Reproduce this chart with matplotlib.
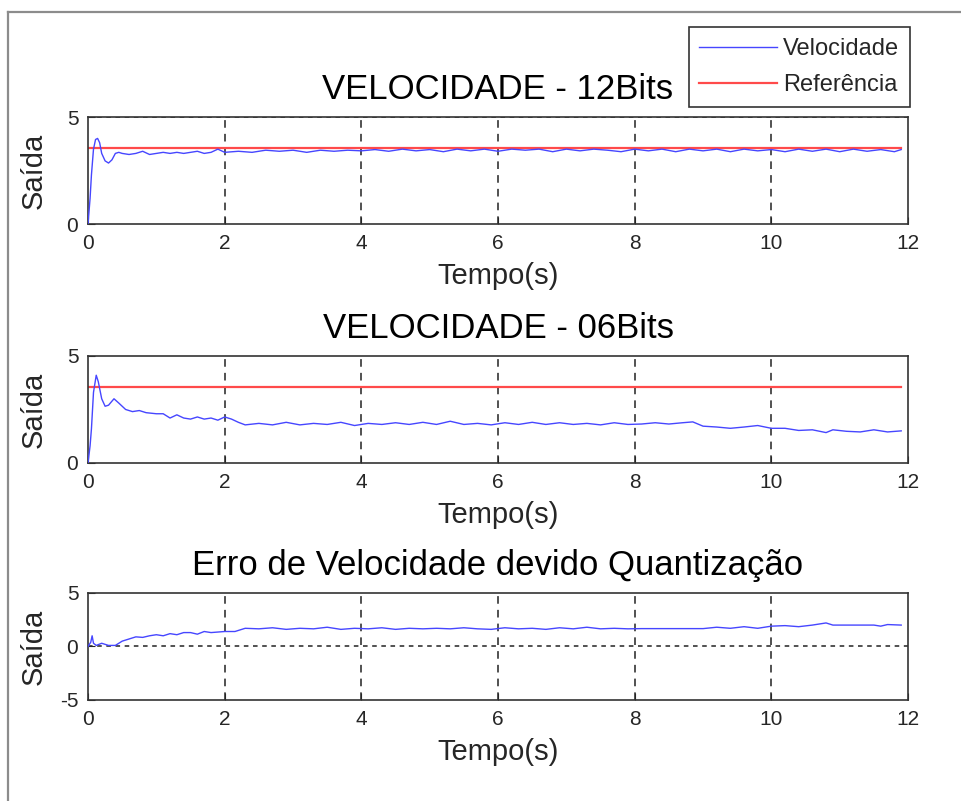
import matplotlib
matplotlib.use("Agg")
import matplotlib.pyplot as plt
from matplotlib.lines import Line2D

plt.rcParams['font.family'] = ['Liberation Sans', 'DejaVu Sans']
plt.rcParams['axes.unicode_minus'] = False

# velocidade 12 bits
t12 = [0, 0.03, 0.05, 0.08, 0.11, 0.14, 0.17, 0.2, 0.25, 0.3, 0.35, 0.4, 0.45, 0.5,
       0.6, 0.7, 0.8, 0.9, 1.0, 1.1, 1.2, 1.3, 1.4, 1.5, 1.6, 1.7, 1.8, 1.9, 2.0,
       2.2, 2.4, 2.6, 2.8, 3.0, 3.2, 3.4, 3.6, 3.8, 4.0, 4.2, 4.4, 4.6, 4.8, 5.0,
       5.2, 5.4, 5.6, 5.8, 6.0, 6.2, 6.4, 6.6, 6.8, 7.0, 7.2, 7.4, 7.6, 7.8, 8.0,
       8.2, 8.4, 8.6, 8.8, 9.0, 9.2, 9.4, 9.6, 9.8, 10.0, 10.2, 10.4, 10.6, 10.8,
       11.0, 11.2, 11.4, 11.6, 11.8, 11.9]
v12 = [0, 1.2, 2.3, 3.5, 3.95, 4.0, 3.8, 3.3, 2.95, 2.85, 3.0, 3.3, 3.35, 3.3,
       3.25, 3.3, 3.4, 3.25, 3.3, 3.35, 3.3, 3.35, 3.3, 3.35, 3.4, 3.3, 3.35, 3.5, 3.35,
       3.4, 3.35, 3.45, 3.4, 3.45, 3.35, 3.45, 3.4, 3.45, 3.42, 3.48, 3.4, 3.5, 3.42, 3.48,
       3.38, 3.5, 3.42, 3.5, 3.4, 3.5, 3.45, 3.5, 3.38, 3.5, 3.42, 3.5, 3.45, 3.38, 3.5,
       3.42, 3.5, 3.38, 3.5, 3.42, 3.5, 3.38, 3.5, 3.42, 3.48, 3.38, 3.5, 3.4, 3.5,
       3.38, 3.5, 3.4, 3.48, 3.38, 3.48]

# velocidade 06 bits
t06 = [0, 0.03, 0.05, 0.08, 0.12, 0.15, 0.2, 0.25, 0.3, 0.38, 0.45, 0.55, 0.65, 0.75,
       0.85, 1.0, 1.1, 1.2, 1.3, 1.4, 1.5, 1.6, 1.7, 1.8, 1.9, 2.0, 2.1, 2.2, 2.3,
       2.5, 2.7, 2.9, 3.1, 3.3, 3.5, 3.7, 3.9, 4.1, 4.3, 4.5, 4.7, 4.9, 5.1, 5.3,
       5.5, 5.7, 5.9, 6.1, 6.3, 6.5, 6.7, 6.9, 7.1, 7.3, 7.5, 7.7, 7.9, 8.1, 8.3,
       8.5, 8.7, 8.85, 9.0, 9.2, 9.4, 9.6, 9.8, 10.0, 10.2, 10.4, 10.6, 10.8, 10.9,
       11.1, 11.3, 11.5, 11.7, 11.9]
v06 = [0, 0.8, 1.6, 3.3, 4.1, 3.8, 3.0, 2.65, 2.7, 3.0, 2.8, 2.5, 2.4, 2.45,
       2.35, 2.3, 2.3, 2.1, 2.25, 2.1, 2.05, 2.15, 2.05, 2.1, 2.0, 2.15, 2.05, 1.9, 1.78,
       1.85, 1.78, 1.9, 1.78, 1.85, 1.8, 1.9, 1.75, 1.85, 1.8, 1.88, 1.8, 1.9, 1.8, 1.95,
       1.8, 1.85, 1.78, 1.88, 1.8, 1.9, 1.8, 1.88, 1.8, 1.85, 1.78, 1.88, 1.8, 1.82, 1.88,
       1.82, 1.88, 1.92, 1.72, 1.68, 1.62, 1.68, 1.75, 1.62, 1.62, 1.52, 1.55, 1.42, 1.55,
       1.48, 1.45, 1.55, 1.45, 1.5]

# erro de velocidade
te = [0, 0.04, 0.06, 0.08, 0.12, 0.2, 0.3, 0.4, 0.5, 0.6, 0.7, 0.8, 0.9, 1.0, 1.1,
      1.2, 1.3, 1.4, 1.5, 1.6, 1.7, 1.8, 1.9, 2.0, 2.15, 2.3, 2.5, 2.7, 2.9, 3.1,
      3.3, 3.5, 3.7, 3.9, 4.1, 4.3, 4.5, 4.7, 4.9, 5.1, 5.3, 5.5, 5.7, 5.9, 6.1,
      6.3, 6.5, 6.7, 6.9, 7.1, 7.3, 7.5, 7.7, 7.9, 8.1, 8.5, 9.0, 9.2, 9.4, 9.6,
      9.8, 10.0, 10.2, 10.4, 10.6, 10.8, 10.9, 11.1, 11.3, 11.5, 11.6, 11.7, 11.9]
ve = [0, 0.4, 1.0, 0.3, 0.1, 0.3, 0.1, 0.1, 0.5, 0.7, 0.9, 0.85, 1.0, 1.1, 1.0,
      1.2, 1.1, 1.3, 1.3, 1.15, 1.4, 1.3, 1.35, 1.4, 1.4, 1.7, 1.65, 1.75, 1.6, 1.7,
      1.65, 1.8, 1.6, 1.7, 1.65, 1.75, 1.6, 1.7, 1.65, 1.7, 1.65, 1.75, 1.65, 1.6, 1.75,
      1.65, 1.7, 1.6, 1.75, 1.65, 1.8, 1.65, 1.7, 1.65, 1.67, 1.67, 1.67, 1.8, 1.7, 1.85,
      1.7, 1.9, 1.95, 1.85, 2.0, 2.2, 2.0, 2.0, 2.0, 2.0, 1.9, 2.05, 2.0]

ref_t = [0, 11.9]
ref_v = [3.55, 3.55]

xticks = [0, 2, 4, 6, 8, 10, 12]

blue = '#4646ff'
red = '#ff4a4a'
txt = '#262626'

fig = plt.figure(figsize=(9.61, 8.01), dpi=100)

# moldura cinza da captura
fig.add_artist(Line2D([8 / 961, 8 / 961], [0, 1 - 12 / 801], color='#8c8c8c', lw=1.6))
fig.add_artist(Line2D([8 / 961, 1], [1 - 12 / 801, 1 - 12 / 801], color='#8c8c8c', lw=1.6))

left, width, height = 0.0916, 0.8533, 0.1336
ax1 = fig.add_axes([left, 0.7203, width, height])
ax2 = fig.add_axes([left, 0.4220, width, height])
ax3 = fig.add_axes([left, 0.1261, width, height])


def style(ax, title, yticks, ygrid):
    ax.set_xlim(0, 12)
    ax.set_xticks(xticks)
    ax.set_yticks(yticks)
    ax.tick_params(direction='in', length=5, labelsize=15, colors=txt, pad=7)
    for s in ax.spines.values():
        s.set_color('#333333')
        s.set_linewidth(1.2)
    for x in xticks[1:-1]:
        ax.axvline(x, color='#222222', lw=1.1, ls=(0, (5, 4)), zorder=1)
    for y in ygrid:
        ax.axhline(y, color='#222222', lw=1.1, ls=(0, (3, 3)), zorder=1)
    ax.set_title(title, fontsize=25, pad=13, color='black')
    ax.set_xlabel('Tempo(s)', fontsize=21, color=txt, labelpad=7)
    ax.set_ylabel('Saída', fontsize=21, color=txt)
    ax.yaxis.set_label_coords(-0.049, 0.5)


l1, = ax1.plot(t12, v12, color=blue, lw=1.0, label='Velocidade', zorder=3)
l2, = ax1.plot(ref_t, ref_v, color=red, lw=1.6, label='Referência', zorder=2)
ax1.set_ylim(0, 5)
style(ax1, 'VELOCIDADE - 12Bits', [0, 5], [5])

ax2.plot(t06, v06, color=blue, lw=1.0, zorder=3)
ax2.plot(ref_t, ref_v, color=red, lw=1.6, zorder=2)
ax2.set_ylim(0, 5)
style(ax2, 'VELOCIDADE - 06Bits', [0, 5], [])

ax3.plot(te, ve, color=blue, lw=1.0, zorder=3)
ax3.set_ylim(-5, 5)
style(ax3, 'Erro de Velocidade devido Quantização', [-5, 0, 5], [0])

leg = ax1.legend(handles=[l1, l2], loc='upper right', bbox_to_anchor=(0.947, 0.966),
                 bbox_transform=fig.transFigure, borderaxespad=0, fancybox=False,
                 edgecolor='#333333', framealpha=1, fontsize=17, handlelength=3.3,
                 handletextpad=0.25, borderpad=0.45, labelspacing=0.6)
leg.get_frame().set_linewidth(1.2)
for t in leg.get_texts():
    t.set_color(txt)

fig.savefig('out.png', dpi=100)
